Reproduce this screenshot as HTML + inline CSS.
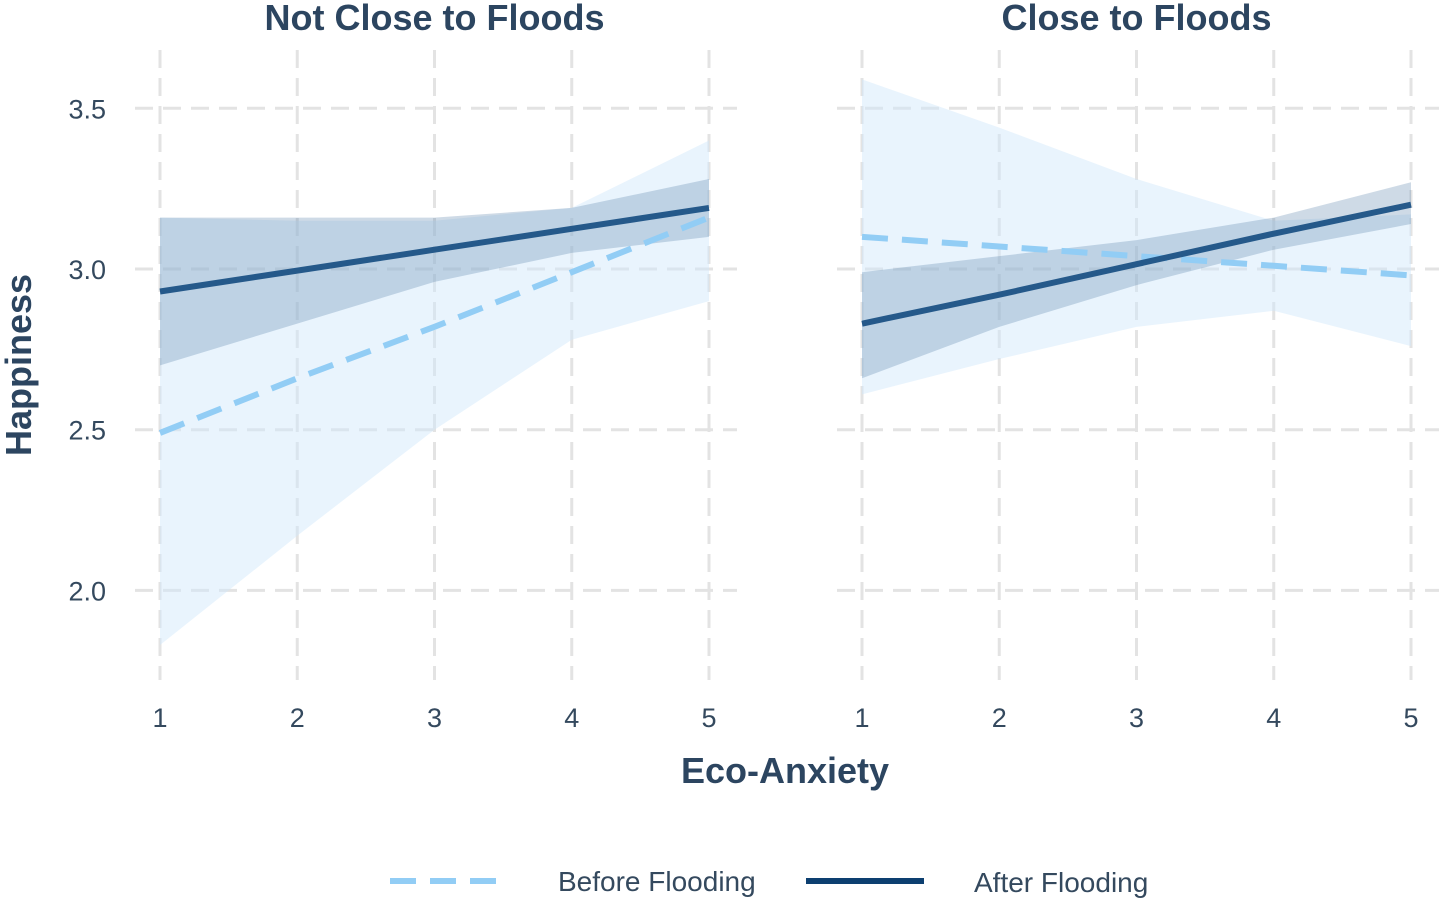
<!DOCTYPE html>
<html><head><meta charset="utf-8"><style>
body{margin:0;background:#fff;}
svg{display:block;font-family:"Liberation Sans",Arial,sans-serif;}
</style></head><body>
<svg id="chart" width="1441" height="902"></svg>
<script>
const xTicks=[1,2,3,4,5];
const yTicks=[2.0,2.5,3.0,3.5];
const yTickLabels=["2.0","2.5","3.0","3.5"];
const panelTitles=["Not Close to Floods","Close to Floods"];
// left panel
const leftBefore=[2.49,2.66,2.82,2.99,3.16];
const leftBeforeLo=[1.83,2.17,2.50,2.78,2.90];
const leftBeforeHi=[3.16,3.15,3.15,3.19,3.40];
const leftAfter=[2.93,2.995,3.06,3.125,3.19];
const leftAfterLo=[2.70,2.83,2.96,3.05,3.10];
const leftAfterHi=[3.16,3.16,3.16,3.19,3.28];
// right panel
const rightBefore=[3.10,3.07,3.04,3.01,2.98];
const rightBeforeLo=[2.61,2.72,2.82,2.87,2.76];
const rightBeforeHi=[3.59,3.44,3.28,3.15,3.17];
const rightAfter=[2.83,2.92,3.015,3.11,3.20];
const rightAfterLo=[2.66,2.82,2.95,3.06,3.14];
const rightAfterHi=[2.99,3.04,3.09,3.16,3.27];

const svg=document.getElementById('chart');
const NS='http://www.w3.org/2000/svg';
function mk(tag,attrs,parent){const e=document.createElementNS(NS,tag);for(const k in attrs)e.setAttribute(k,attrs[k]);(parent||svg).appendChild(e);return e;}
const y=v=>269-(v-3.0)*321.4;
const panels=[{x0:160,data:[leftBefore,leftBeforeLo,leftBeforeHi,leftAfter,leftAfterLo,leftAfterHi]},
{x0:862,data:[rightBefore,rightBeforeLo,rightBeforeHi,rightAfter,rightAfterLo,rightAfterHi]}];
const ux=137.25;
panels.forEach((p,pi)=>{
  const x=v=>p.x0+(v-1)*ux;
  const g=mk('g',{});
  
  
  yTicks.forEach((t,i)=>{
    const l=mk('line',{x1:p.x0-25,x2:p.x0+ux*4+28,y1:y(t),y2:y(t),stroke:'#e3e3e3','stroke-width':3,'stroke-dasharray':'18 10'},g);
    
    
  });
  xTicks.forEach(t=>{
    const l=mk('line',{x1:x(t),x2:x(t),y1:50,y2:680,stroke:'#e3e3e3','stroke-width':3,'stroke-dasharray':'18 10'},g);
    
    
    const tx=mk('text',{x:x(t),y:727,'text-anchor':'middle','font-size':27,fill:'#34495e'},g);
    tx.textContent=t;
    
    
  });
  const [b,bl,bh,a,al,ah]=p.data;
  const band=(lo,hi,fill,op,name)=>{
    let d='M'+xTicks.map((t,i)=>x(t)+','+y(hi[i])).join(' L');
    d+=' L'+xTicks.slice().reverse().map((t,j)=>{const i=4-j;return x(t)+','+y(lo[i]);}).join(' L')+'Z';
    const e=mk('path',{d:d,fill:fill,'fill-opacity':op},g);
    
    
  };
  band(bl,bh,'#cfe6fa',0.45,'before-ribbon');
  band(al,ah,'#4a77a3',0.27,'after-ribbon');
  const line=(v,col,dash,name)=>{
    const e=mk('polyline',{points:xTicks.map((t,i)=>x(t)+','+y(v[i])).join(' '),fill:'none',stroke:col,'stroke-width':6,'stroke-dasharray':dash},g);
    
    
  };
  line(b,'#92cdf5','26 14','before-line');
  line(a,'#25598a','none','after-line');
  const tt=mk('text',{x:x(3),y:30,'text-anchor':'middle','font-size':36,'font-weight':'bold',fill:'#2c4560'},g);
  tt.textContent=panelTitles[pi];
  
  
});
yTicks.forEach((t,i)=>{
  const tx=mk('text',{x:106,y:y(t)+10,'text-anchor':'end','font-size':27,fill:'#34495e'});
  tx.textContent=yTickLabels[i];
  
  
});
</script>
<svg width="1441" height="902" style="position:absolute;left:0;top:0;font-family:'Liberation Sans',Arial,sans-serif">
<text x="785" y="783" text-anchor="middle" font-size="36" font-weight="bold" fill="#2c4560">Eco-Anxiety</text>
<text transform="translate(31,365) rotate(-90)" text-anchor="middle" font-size="36" font-weight="bold" fill="#2c4560">Happiness</text>
<g>
<line x1="390" x2="510" y1="881" y2="881" stroke="#92cdf5" stroke-width="6" stroke-dasharray="26 14"/>
<text x="558" y="891" font-size="28" fill="#34495e">Before Flooding</text>
<line x1="806" x2="924" y1="881" y2="881" stroke="#0d3f70" stroke-width="6"/>
<text x="974" y="892" font-size="28" fill="#34495e">After Flooding</text>
</g>
</svg>
</body></html>
